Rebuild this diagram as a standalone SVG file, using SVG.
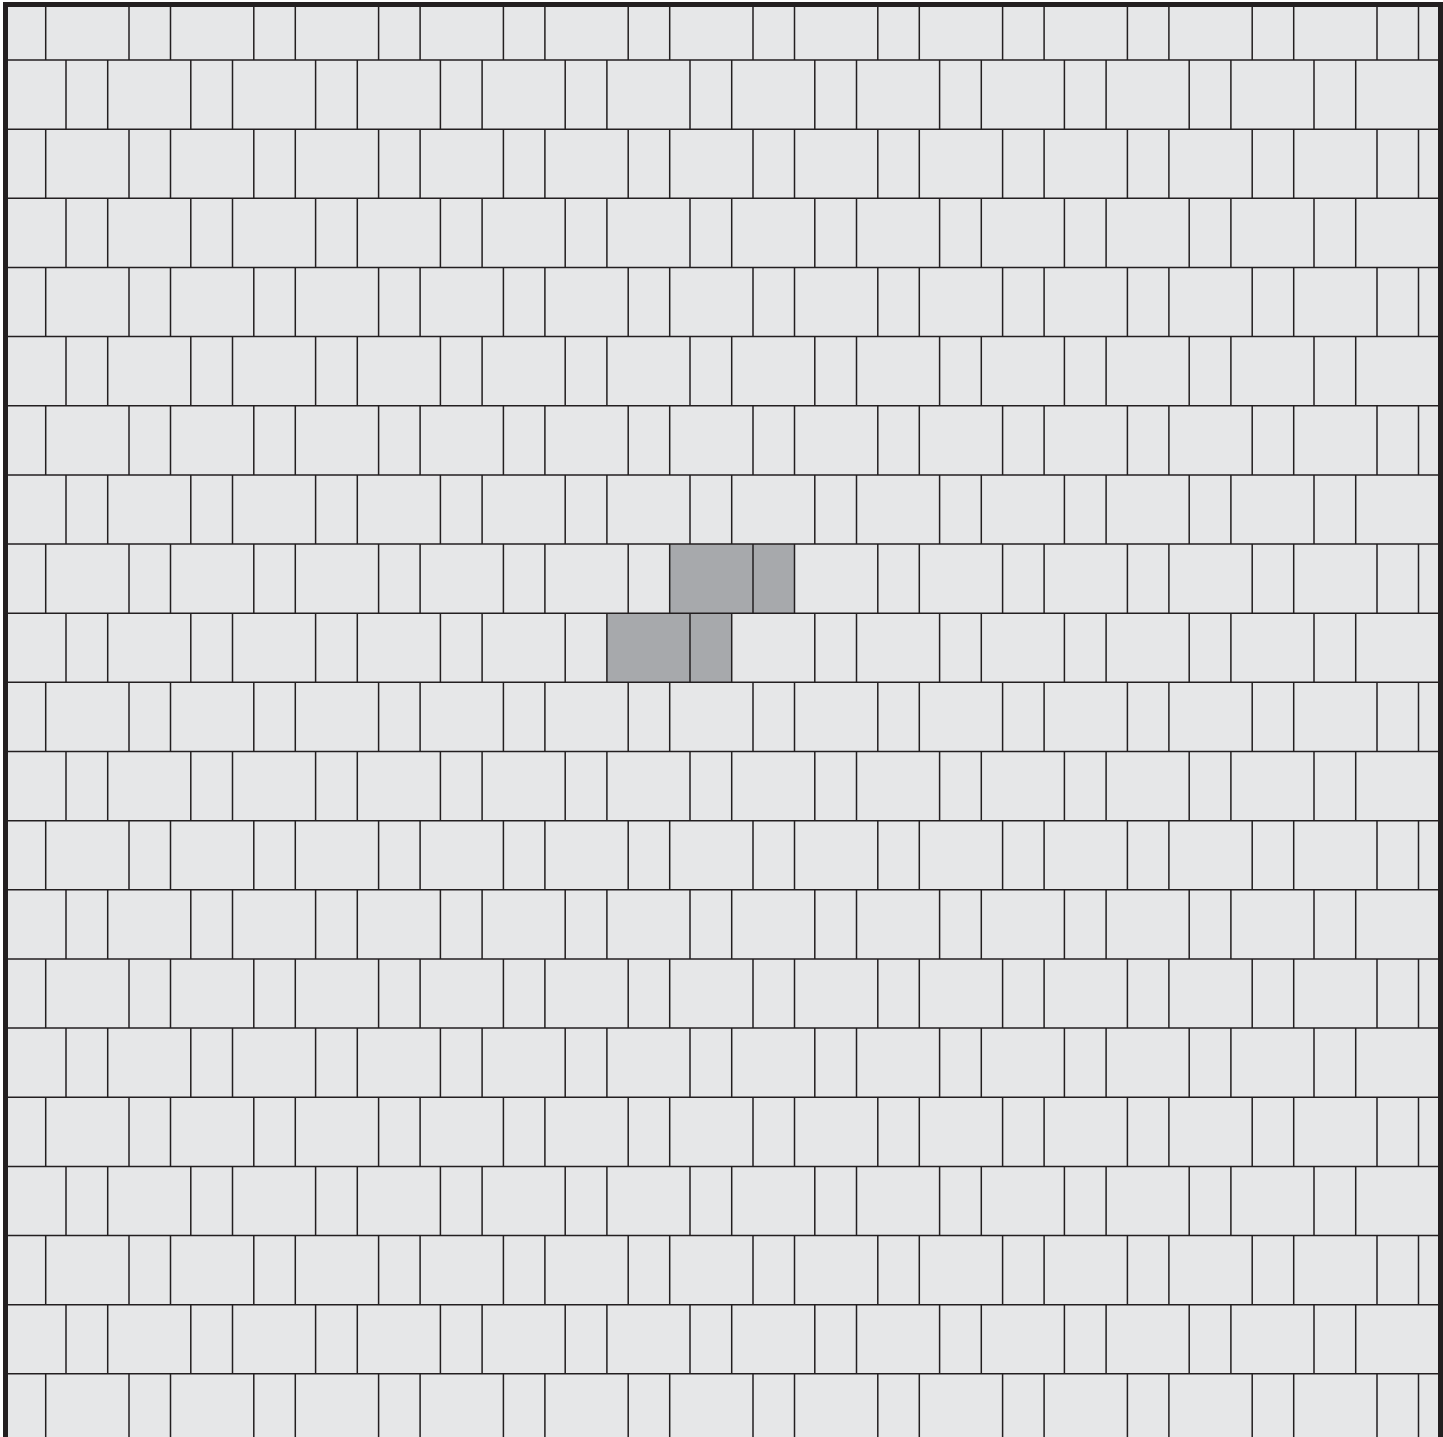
<svg xmlns="http://www.w3.org/2000/svg" xmlns:xlink="http://www.w3.org/1999/xlink" width="1443" height="1437" viewBox="0 0 1443 1437">
<style>
.ln{fill:none;stroke:#231f20;stroke-width:1.5}
.hl{fill:#a7a9ac}
</style>
<defs>
<clipPath id="inner"><rect x="8" y="7" width="1430" height="1440"/></clipPath>
<path id="rowA" class="ln" d="M45.7 0V69.15M129 0V69.15M170.5 0V69.15M253.8 0V69.15M295.3 0V69.15M378.6 0V69.15M420.1 0V69.15M503.4 0V69.15M544.9 0V69.15M628.2 0V69.15M669.7 0V69.15M753 0V69.15M794.5 0V69.15M877.8 0V69.15M919.3 0V69.15M1002.6 0V69.15M1044.1 0V69.15M1127.4 0V69.15M1168.9 0V69.15M1252.2 0V69.15M1293.7 0V69.15M1377 0V69.15M1418.5 0V69.15"/>
<path id="rowB" class="ln" d="M66 0V69.15M107.7 0V69.15M190.8 0V69.15M232.5 0V69.15M315.6 0V69.15M357.3 0V69.15M440.4 0V69.15M482.1 0V69.15M565.2 0V69.15M606.9 0V69.15M690 0V69.15M731.7 0V69.15M814.8 0V69.15M856.5 0V69.15M939.6 0V69.15M981.3 0V69.15M1064.4 0V69.15M1106.1 0V69.15M1189.2 0V69.15M1230.9 0V69.15M1314 0V69.15M1355.7 0V69.15"/>
</defs>
<rect x="0" y="0" width="1443" height="1437" fill="#ffffff"/>
<rect x="8" y="7" width="1430" height="1440" fill="#e6e7e8"/>
<g id="highlight">
<rect class="hl" x="669.7" y="544.05" width="83.3" height="69.15"/>
<rect class="hl" x="753" y="544.05" width="41.5" height="69.15"/>
<rect class="hl" x="606.9" y="613.2" width="83.1" height="69.15"/>
<rect class="hl" x="690" y="613.2" width="41.7" height="69.15"/>
</g>
<g id="tiles" clip-path="url(#inner)">
<path class="ln" d="M0 60H1443M0 129.15H1443M0 198.3H1443M0 267.45H1443M0 336.6H1443M0 405.75H1443M0 474.9H1443M0 544.05H1443M0 613.2H1443M0 682.35H1443M0 751.5H1443M0 820.65H1443M0 889.8H1443M0 958.95H1443M0 1028.1H1443M0 1097.25H1443M0 1166.4H1443M0 1235.55H1443M0 1304.7H1443M0 1373.85H1443"/>
<use xlink:href="#rowA" y="-9.15"/>
<use xlink:href="#rowA" y="129.15"/>
<use xlink:href="#rowA" y="267.45"/>
<use xlink:href="#rowA" y="405.75"/>
<use xlink:href="#rowA" y="544.05"/>
<use xlink:href="#rowA" y="682.35"/>
<use xlink:href="#rowA" y="820.65"/>
<use xlink:href="#rowA" y="958.95"/>
<use xlink:href="#rowA" y="1097.25"/>
<use xlink:href="#rowA" y="1235.55"/>
<use xlink:href="#rowA" y="1373.85"/>
<use xlink:href="#rowB" y="60"/>
<use xlink:href="#rowB" y="198.3"/>
<use xlink:href="#rowB" y="336.6"/>
<use xlink:href="#rowB" y="474.9"/>
<use xlink:href="#rowB" y="613.2"/>
<use xlink:href="#rowB" y="751.5"/>
<use xlink:href="#rowB" y="889.8"/>
<use xlink:href="#rowB" y="1028.1"/>
<use xlink:href="#rowB" y="1166.4"/>
<use xlink:href="#rowB" y="1304.7"/>
</g>
<rect id="frame" x="5.5" y="4.5" width="1435" height="1445" fill="none" stroke="#231f20" stroke-width="5"/>
</svg>
